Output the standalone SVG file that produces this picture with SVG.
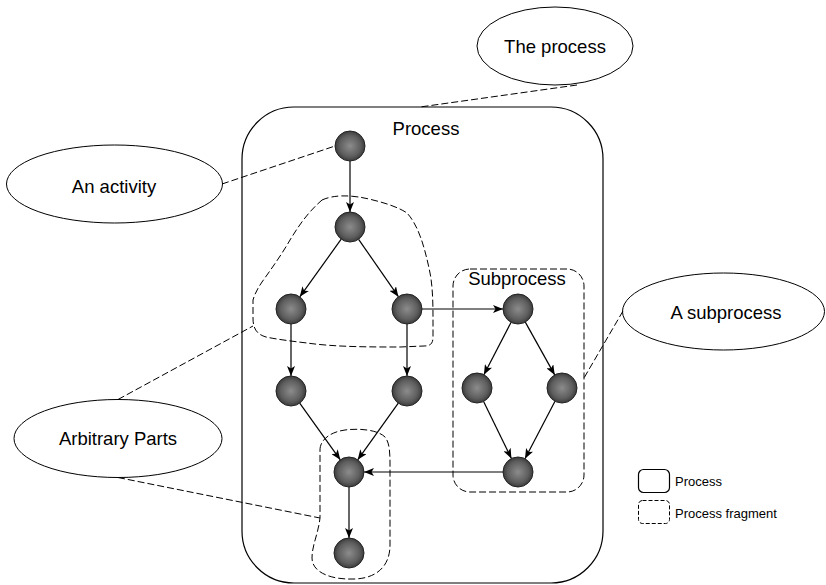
<svg xmlns="http://www.w3.org/2000/svg" width="826" height="585" viewBox="0 0 826 585">
  <defs>
    <radialGradient id="ball" cx="50%" cy="50%" r="50%">
      <stop offset="0" stop-color="#8c8c8c"/>
      <stop offset="0.7" stop-color="#5e5e5e"/>
      <stop offset="1" stop-color="#3c3c3c"/>
    </radialGradient>
    <marker id="arrow" markerWidth="10" markerHeight="8" refX="10" refY="4" orient="auto" markerUnits="userSpaceOnUse">
      <path d="M0,0 L10,4 L0,8 L2.5,4 Z" fill="#000"/>
    </marker>
  </defs>
  <style>
    .txt { font-family: "Liberation Sans", Arial, sans-serif; font-size: 18.5px; fill: #000; }
    .small { font-family: "Liberation Sans", Arial, sans-serif; font-size: 13px; fill: #000; }
    .callout { fill: #fff; stroke: #000; stroke-width: 1; }
    .dash { fill: none; stroke: #000; stroke-width: 1; stroke-dasharray: 7 3; }
    .solid { fill: none; stroke: #000; stroke-width: 1.2; }
    .edge { fill: none; stroke: #000; stroke-width: 1.2; marker-end: url(#arrow); }
    .node { fill: url(#ball); stroke: #222; stroke-width: 1; }
  </style>

  <rect x="0" y="0" width="826" height="585" fill="#fff"/>

  <!-- process container -->
  <g id="process">
    <rect class="solid" x="242" y="107" width="361" height="476" rx="52" ry="52"/>
    <text class="txt" x="426" y="135" text-anchor="middle">Process</text>
  </g>

  <!-- subprocess container -->
  <g id="subprocess">
    <rect class="dash" x="453" y="269" width="131" height="223" rx="17" ry="17"/>
    <text class="txt" x="517" y="285" text-anchor="middle">Subprocess</text>
  </g>

  <!-- process fragments -->
  <g id="fragment-upper">
    <path class="dash" d="M322,200 C333,195 350,194 373,200 C385,203 398,207 407,213 C418,225 424,245 429,268 C433,285 433,305 433,322 L433,337 C433,344 430,346 424,346 L400,347 C370,347 335,347 307,343 C290,341 275,339 266,337 C256,334 253,328 253,318 L253,300 C255,293 258,288 262,282 C272,268 282,254 290,240 C298,227 307,213 322,200 Z"/>
  </g>
  <g id="fragment-lower">
    <path class="dash" d="M320,450 C320,440 330,432 345,430 C360,428 378,430 385,437 C390,443 390,455 390,465 L390,545 C390,565 378,578 355,579 C330,580 312,572 312,558 C312,545 318,535 320,518 Z"/>
  </g>

  <!-- callouts -->
  <g id="callout-the-process">
    <ellipse class="callout" cx="555" cy="46" rx="78" ry="39"/>
    <text class="txt" x="555" y="52.5" text-anchor="middle">The process</text>
  </g>
  <g id="callout-activity">
    <ellipse class="callout" cx="114.5" cy="184" rx="108" ry="39"/>
    <text class="txt" x="114" y="193" text-anchor="middle">An activity</text>
  </g>
  <g id="callout-subprocess">
    <ellipse class="callout" cx="723.5" cy="311.5" rx="101" ry="38.5"/>
    <text class="txt" x="726" y="318.5" text-anchor="middle">A subprocess</text>
  </g>
  <g id="callout-parts">
    <ellipse class="callout" cx="118" cy="438.5" rx="104" ry="39"/>
    <text class="txt" x="118" y="445" text-anchor="middle">Arbitrary Parts</text>
  </g>

  <!-- connectors -->
  <g id="connectors">
    <!-- callout leaders -->
    <line class="dash" x1="577" y1="85" x2="420" y2="107"/>
    <line class="dash" x1="222" y1="184" x2="335" y2="146"/>
    <line class="dash" x1="623" y1="311" x2="584" y2="378"/>
    <line class="dash" x1="118" y1="399.5" x2="253" y2="326"/>
    <line class="dash" x1="118" y1="477.5" x2="320" y2="518"/>

    <!-- flow -->
    <line class="edge" x1="350" y1="161" x2="350" y2="212"/>
    <line class="edge" x1="341.2" y1="239.2" x2="299.8" y2="296.8"/>
    <line class="edge" x1="358.6" y1="239.3" x2="398.4" y2="296.7"/>
    <line class="edge" x1="291" y1="324" x2="291" y2="376"/>
    <line class="edge" x1="407" y1="324" x2="407" y2="376"/>
    <line class="edge" x1="422" y1="309" x2="503" y2="309"/>
    <line class="edge" x1="511.1" y1="322.3" x2="483.9" y2="374.7"/>
    <line class="edge" x1="525.3" y1="322.1" x2="554.7" y2="374.9"/>
    <line class="edge" x1="483.6" y1="401.5" x2="511.4" y2="458.5"/>
    <line class="edge" x1="555" y1="401.3" x2="525" y2="458.7"/>
    <line class="edge" x1="503" y1="472" x2="364" y2="472"/>
    <line class="edge" x1="299.7" y1="403.2" x2="340.3" y2="459.8"/>
    <line class="edge" x1="398.3" y1="403.2" x2="357.7" y2="459.8"/>
    <line class="edge" x1="349" y1="487" x2="349" y2="538"/>
  </g>

  <!-- activities -->
  <g id="n1"><circle class="node" cx="350" cy="146" r="15"/></g>
  <g id="n2"><circle class="node" cx="350" cy="227" r="15"/></g>
  <g id="n3"><circle class="node" cx="291" cy="309" r="15"/></g>
  <g id="n4"><circle class="node" cx="407" cy="309" r="15"/></g>
  <g id="n5"><circle class="node" cx="291" cy="391" r="15"/></g>
  <g id="n6"><circle class="node" cx="407" cy="391" r="15"/></g>
  <g id="s1"><circle class="node" cx="518" cy="309" r="15"/></g>
  <g id="s2"><circle class="node" cx="477" cy="388" r="15"/></g>
  <g id="s3"><circle class="node" cx="562" cy="388" r="15"/></g>
  <g id="s4"><circle class="node" cx="518" cy="472" r="15"/></g>
  <g id="m1"><circle class="node" cx="349" cy="472" r="15"/></g>
  <g id="m2"><circle class="node" cx="349" cy="553" r="15"/></g>

  <!-- legend -->
  <g id="legend">
    <rect class="solid" x="638.5" y="469.5" width="31" height="23" rx="5" ry="5"/>
    <text class="small" x="675" y="486">Process</text>
    <rect class="dash" x="638.5" y="500.5" width="31" height="23" rx="4" ry="4" style="stroke-dasharray: 4 2"/>
    <text class="small" x="675" y="518">Process fragment</text>
  </g>
</svg>
